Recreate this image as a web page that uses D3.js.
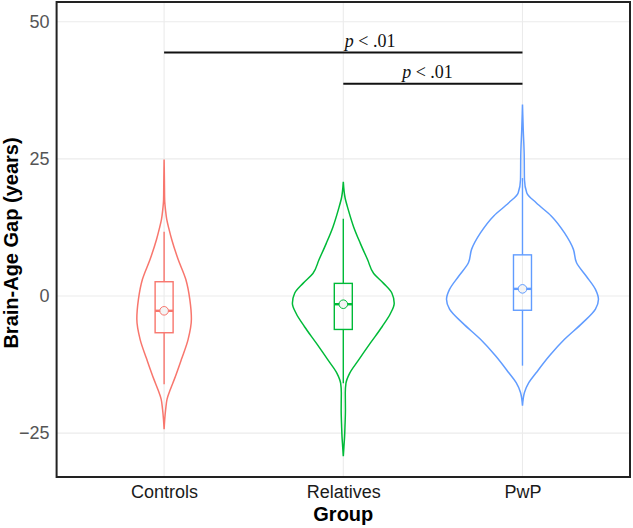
<!DOCTYPE html>
<html>
<head>
<meta charset="utf-8">
<script src="https://cdn.jsdelivr.net/npm/d3@7"></script>
<style>
    body { margin: 0; background: #fff; }
    text { font-family: "Liberation Sans", Arial, sans-serif; }
</style>
</head>
<body>
<svg id="chart" width="633" height="528"></svg>
<script>
(function () {
    'use strict';

    // categories + colours (ggplot default hues)
    var groups = ['Controls', 'Relatives', 'PwP'];
    var groupColors = ['#F8766D', '#00BA38', '#619CFF'];

    // violin outlines: gap value (years) and relative density, read top to bottom
    var controlsGap = [24.9, 21.0, 17.6, 15.5, 14.0, 12.1, 10.3, 6.7, 3.0, -0.6, -4.2, -7.9, -11.5, -15.2, -17.0, -18.8, -20.6, -22.5, -24.3];
    var controlsDensity = [0, 0.004, 0.007, 0.02, 0.034, 0.066, 0.10, 0.184, 0.286, 0.338, 0.359, 0.316, 0.229, 0.134, 0.083, 0.039, 0.021, 0.008, 0];

    var relativesGap = [20.8, 18.0, 15.7, 12.6, 9.6, 6.6, 4.1, 2.3, 0.5, -1.3, -3.2, -5.6, -8.6, -11.7, -14.1, -15.9, -17.7, -20.8, -23.8, -25.6, -27.5, -29.2];
    var relativesDensity = [0, 0.022, 0.066, 0.136, 0.224, 0.32, 0.40, 0.53, 0.64, 0.67, 0.62, 0.51, 0.355, 0.2, 0.083, 0.035, 0.026, 0.028, 0.022, 0.017, 0.008, 0];

    var pwpGap = [34.9, 30.3, 26.0, 21.2, 18.8, 17.0, 14.6, 11.5, 8.5, 6.1, 3.6, 1.2, -0.6, -2.4, -4.9, -7.9, -10.9, -14.0, -15.8, -17.6, -20.0];
    var pwpDensity = [0, 0.01, 0.022, 0.026, 0.057, 0.18, 0.378, 0.553, 0.67, 0.71, 0.84, 0.96, 1.0, 0.96, 0.79, 0.553, 0.355, 0.18, 0.083, 0.026, 0];

    // box plot stats per group
    var whiskerLow = [-16.1, -15.9, -12.7];
    var q1 = [-6.7, -6.1, -2.6];
    var median = [-2.7, -1.5, 1.3];
    var q3 = [2.6, 2.3, 7.5];
    var whiskerHigh = [11.7, 14.1, 21.5];

    // axis ticks
    var yTicks = [-25, 0, 25, 50];

    // significance brackets: [from group, to group], bracket height, label x
    var bracketFrom = [1, 2];
    var bracketTo = [3, 3];
    var bracketY = [44.4, 38.7];
    var labelX = [2.15, 2.47];

    var violinGaps = [controlsGap, relativesGap, pwpGap];
    var violinDensities = [controlsDensity, relativesDensity, pwpDensity];

    var PANEL = {LEFT: 56.6, RIGHT: 630, TOP: 2, BOTTOM: 477};
    var GRID_COLOR = '#ebebeb';
    var BOX_HALF = 9;

    var svg = d3.select('#chart');

    var x = d3.scaleLinear().domain([0.4, 3.6]).range([PANEL.LEFT, PANEL.RIGHT]);
    var y = d3.scaleLinear().domain([-33, 53.6]).range([PANEL.BOTTOM, PANEL.TOP]);
    var w = d3.scaleLinear().domain([0, 1]).range([0, 76]);

    function renderGrid() {
        var grid = svg.append('g');
        grid.selectAll('line.h').data(yTicks).enter()
            .append('line')
            .attr('x1', PANEL.LEFT).attr('x2', PANEL.RIGHT)
            .attr('y1', y).attr('y2', y)
            .attr('stroke', GRID_COLOR).attr('stroke-width', 1.1);
        grid.selectAll('line.v').data(groups).enter()
            .append('line')
            .attr('x1', function (d, i) { return x(i + 1); })
            .attr('x2', function (d, i) { return x(i + 1); })
            .attr('y1', PANEL.TOP).attr('y2', PANEL.BOTTOM)
            .attr('stroke', GRID_COLOR).attr('stroke-width', 1.1);
    }

    function renderViolins() {
        groups.forEach(function (name, i) {
            var cx = x(i + 1);
            var pts = violinGaps[i].map(function (g, k) {
                return {value: g, density: violinDensities[i][k]};
            });
            var area = d3.area()
                .curve(d3.curveMonotoneY)
                .y(function (d) { return y(d.value); })
                .x0(function (d) { return cx - w(d.density); })
                .x1(function (d) { return cx + w(d.density); });
            svg.append('path')
                .datum(pts)
                .attr('d', area)
                .attr('fill', 'none')
                .attr('stroke', groupColors[i])
                .attr('stroke-width', 1.5);
        });
    }

    function renderBoxes() {
        groups.forEach(function (name, i) {
            var cx = x(i + 1);
            var color = groupColors[i];
            var g = svg.append('g').attr('stroke', color);
            g.append('line')
                .attr('x1', cx).attr('x2', cx)
                .attr('y1', y(q3[i])).attr('y2', y(whiskerHigh[i]))
                .attr('stroke-width', 1.4);
            g.append('line')
                .attr('x1', cx).attr('x2', cx)
                .attr('y1', y(q1[i])).attr('y2', y(whiskerLow[i]))
                .attr('stroke-width', 1.4);
            g.append('rect')
                .attr('x', cx - BOX_HALF).attr('width', BOX_HALF * 2)
                .attr('y', y(q3[i])).attr('height', y(q1[i]) - y(q3[i]))
                .attr('fill', 'none')
                .attr('stroke-width', 1.4);
            g.append('line')
                .attr('x1', cx - BOX_HALF).attr('x2', cx + BOX_HALF)
                .attr('y1', y(median[i])).attr('y2', y(median[i]))
                .attr('stroke-width', 2.4);
            g.append('circle')
                .attr('cx', cx).attr('cy', y(median[i]))
                .attr('r', 4.3)
                .attr('fill', '#f4f4f4')
                .attr('stroke-width', 1);
        });
    }

    function renderBrackets() {
        var g = svg.append('g');
        bracketY.forEach(function (by, k) {
            g.append('line')
                .attr('x1', x(bracketFrom[k])).attr('x2', x(bracketTo[k]))
                .attr('y1', y(by)).attr('y2', y(by))
                .attr('stroke', '#111').attr('stroke-width', 2);
            var t = g.append('text')
                .attr('x', x(labelX[k]))
                .attr('y', y(by) - 5.5)
                .attr('text-anchor', 'middle')
                .style('font-family', '"Liberation Serif", "Times New Roman", serif')
                .style('font-size', '18px')
                .attr('fill', '#111');
            t.append('tspan').style('font-style', 'italic').text('p');
            t.append('tspan').text(' < .01');
        });
    }

    function renderAxes() {
        var yAxis = svg.append('g')
            .attr('transform', 'translate(' + PANEL.LEFT + ',0)')
            .call(d3.axisLeft(y).tickValues(yTicks).tickSize(0).tickPadding(7));
        yAxis.select('.domain').remove();
        yAxis.selectAll('text').style('font-size', '18px').attr('fill', '#555');

        var xAxis = svg.append('g')
            .attr('transform', 'translate(0,' + PANEL.BOTTOM + ')')
            .call(d3.axisBottom(x).tickValues([1, 2, 3])
                .tickFormat(function (d) { return groups[d - 1]; })
                .tickSize(0).tickPadding(8));
        xAxis.select('.domain').remove();
        xAxis.selectAll('text').style('font-size', '18px').attr('fill', '#1a1a1a');

        svg.append('rect')
            .attr('x', PANEL.LEFT).attr('y', PANEL.TOP)
            .attr('width', PANEL.RIGHT - PANEL.LEFT)
            .attr('height', PANEL.BOTTOM - PANEL.TOP)
            .attr('fill', 'none')
            .attr('stroke', '#222')
            .attr('stroke-width', 2);

        svg.append('text')
            .attr('x', (PANEL.LEFT + PANEL.RIGHT) / 2)
            .attr('y', 521)
            .attr('text-anchor', 'middle')
            .style('font-size', '20px')
            .style('font-weight', 'bold')
            .text('Group');

        svg.append('text')
            .attr('transform', 'translate(18,243) rotate(-90)')
            .attr('text-anchor', 'middle')
            .style('font-size', '20px')
            .style('font-weight', 'bold')
            .text('Brain-Age Gap (years)');
    }

    renderGrid();
    renderViolins();
    renderBoxes();
    renderBrackets();
    renderAxes();
})();
</script>
</body>
</html>
